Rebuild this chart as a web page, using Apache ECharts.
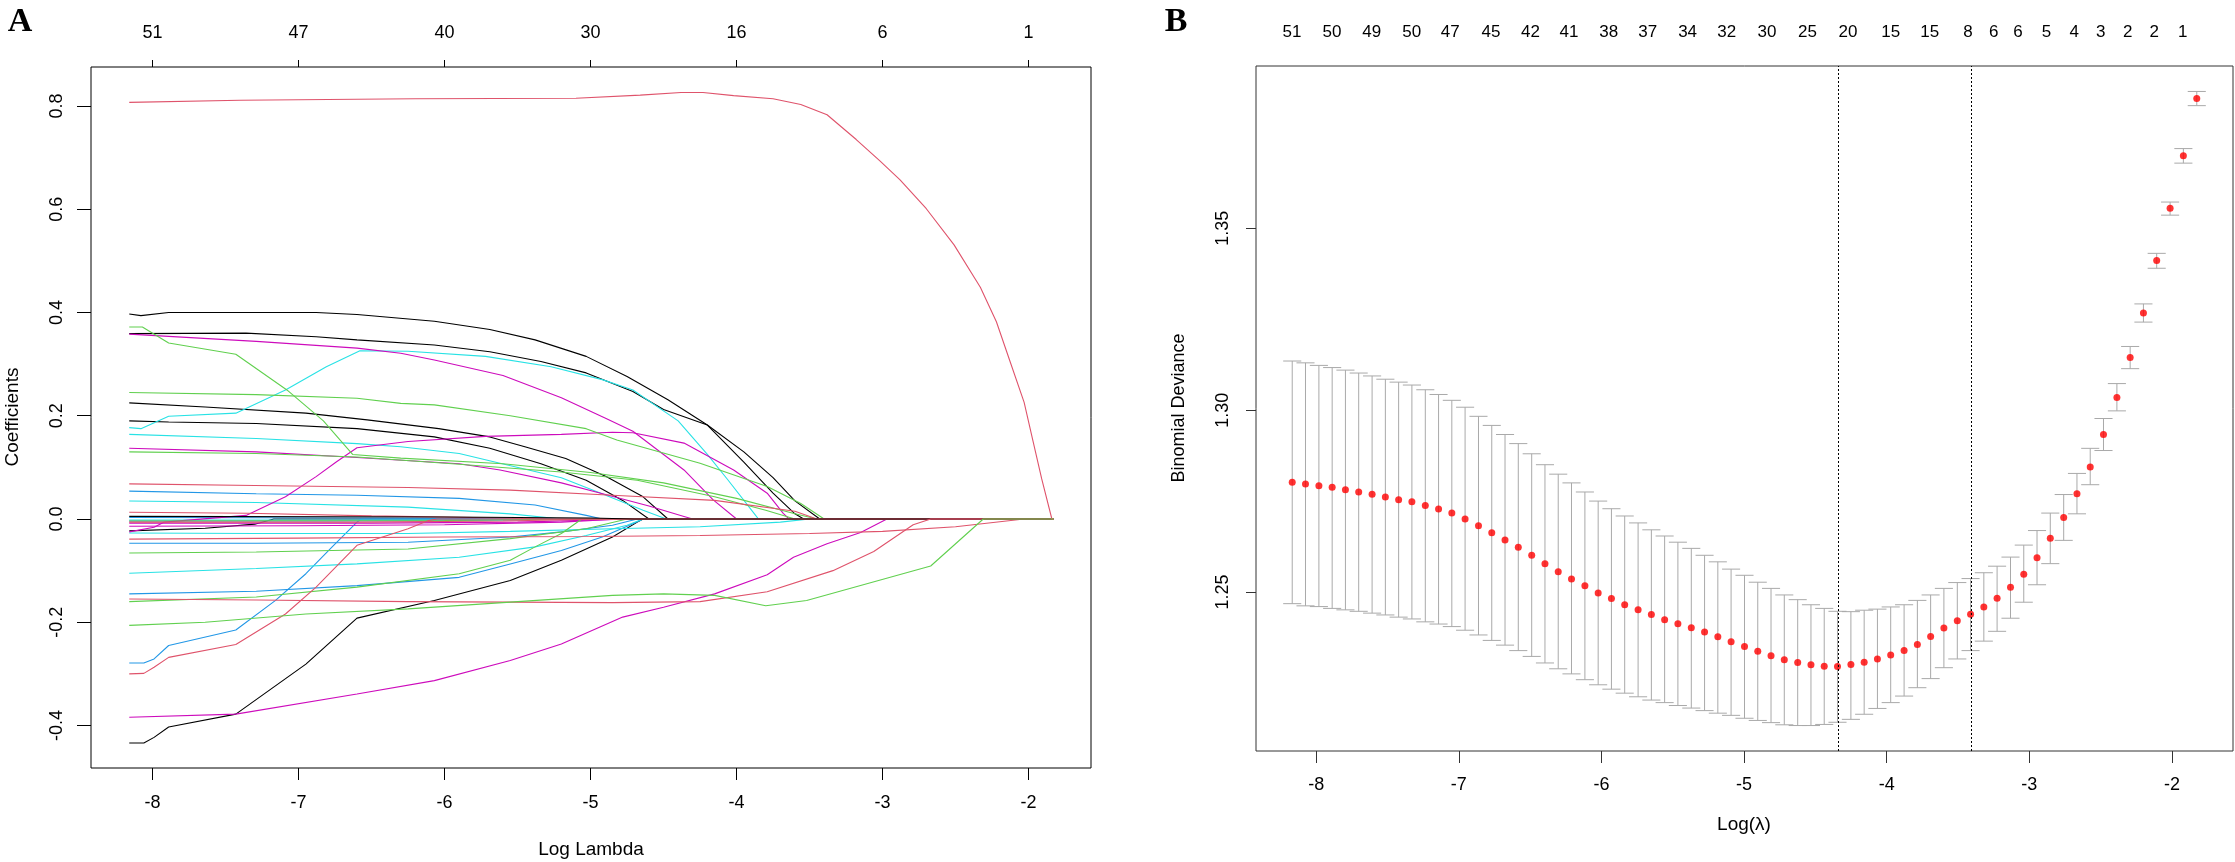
<!DOCTYPE html>
<html>
<head>
<meta charset="utf-8">
<script src="https://cdn.jsdelivr.net/npm/echarts@6.0.0/dist/echarts.min.js"></script>
<style>
  html, body { margin: 0; padding: 0; background: #fff; }
  #main { width: 2235px; height: 862px; }
</style>
</head>
<body>
<div id="main"></div>
<script>
// ---------- panel A : coefficient paths (log lambda, coefficient) ----------
const ticksX = [-8, -7, -6, -5, -4, -3, -2];
const topLabelsA = ['51', '47', '40', '30', '16', '6', '1'];
const ticksYA = [-0.4, -0.2, 0, 0.2, 0.4, 0.6, 0.8];

const blackTop = [[-8.16,0.397],[-8.08,0.394],[-7.89,0.4],[-6.88,0.4],[-6.6,0.396],[-6.07,0.383],[-5.69,0.367],[-5.38,0.347],[-5.03,0.315],[-4.75,0.276],[-4.47,0.231],[-4.2,0.182],[-3.95,0.11],[-3.75,0.05],[-3.6,0.01],[-3.54,0],[-1.826,0]];
const blackSecond = [[-8.16,0.359],[-7.36,0.36],[-6.88,0.353],[-6.6,0.347],[-6.07,0.337],[-5.69,0.324],[-5.34,0.305],[-5.03,0.283],[-4.71,0.247],[-4.5,0.212],[-4.2,0.182],[-3.95,0.13],[-3.75,0.08],[-3.6,0.035],[-3.43,0],[-1.826,0]];
const blackMid = [[-8.16,0.225],[-7.64,0.217],[-6.95,0.205],[-6.53,0.192],[-6.04,0.175],[-5.69,0.159],[-5.45,0.14],[-5.17,0.117],[-4.89,0.082],[-4.64,0.043],[-4.47,0],[-1.826,0]];
const blackLow = [[-8.16,0.19],[-7.89,0.188],[-7.29,0.185],[-6.6,0.175],[-6.07,0.159],[-5.69,0.137],[-5.34,0.107],[-5.03,0.075],[-4.78,0.036],[-4.6,0],[-1.826,0]];
const blackZero = [[-8.16,0.005],[-6.0,0.004],[-5.0,0.002],[-4.7,0],[-1.826,0]];
const blackNeg = [[-8.16,-0.023],[-7.64,-0.018],[-7.3,-0.01],[-7.17,0],[-1.826,0]];
const blackSteep = [[-8.16,-0.434],[-8.06,-0.434],[-7.99,-0.423],[-7.89,-0.403],[-7.43,-0.378],[-6.95,-0.281],[-6.6,-0.192],[-6.07,-0.158],[-5.55,-0.119],[-5.2,-0.08],[-4.85,-0.035],[-4.68,-0.006],[-4.64,0],[-1.826,0]];

const blueTop = [[-8.16,0.054],[-7.29,0.049],[-6.6,0.046],[-5.9,0.04],[-5.38,0.027],[-5.03,0.007],[-4.92,0],[-1.826,0]];
const blueZero = [[-8.16,0.003],[-6.5,0.002],[-5.2,0],[-1.826,0]];
const blueBand = [[-8.16,-0.004],[-6.8,-0.004],[-5.9,-0.003],[-5.05,0],[-1.826,0]];
const blueNeg = [[-8.16,-0.047],[-7.29,-0.047],[-6.25,-0.045],[-5.55,-0.035],[-5.2,-0.025],[-4.85,-0.012],[-4.68,0],[-1.826,0]];
const blueLow = [[-8.16,-0.145],[-7.29,-0.14],[-6.6,-0.129],[-5.9,-0.113],[-5.55,-0.087],[-5.2,-0.061],[-4.92,-0.035],[-4.71,-0.009],[-4.64,0],[-1.826,0]];
const blueSteep = [[-8.16,-0.279],[-8.06,-0.279],[-7.99,-0.271],[-7.89,-0.245],[-7.43,-0.215],[-7.16,-0.158],[-6.95,-0.106],[-6.77,-0.054],[-6.6,-0.006],[-6.57,0],[-1.826,0]];

const cyanRise = [[-8.16,0.177],[-8.08,0.175],[-7.89,0.199],[-7.43,0.205],[-7.09,0.25],[-6.81,0.295],[-6.58,0.326],[-6.25,0.325],[-5.72,0.315],[-5.27,0.295],[-4.92,0.27],[-4.71,0.25],[-4.4,0.19],[-4.2,0.125],[-4.06,0.076],[-3.88,0.011],[-3.85,0],[-1.826,0]];
const cyanMid = [[-8.16,0.164],[-7.29,0.156],[-6.6,0.146],[-6.3,0.14],[-5.9,0.127],[-5.62,0.108],[-5.2,0.08],[-4.93,0.05],[-4.64,0.017],[-4.48,0],[-1.826,0]];
const cyanSmall = [[-8.16,0.035],[-7.29,0.032],[-6.25,0.023],[-5.55,0.01],[-5.2,0],[-1.826,0]];
const cyanZero = [[-8.16,-0.002],[-6.0,-0.002],[-5.0,0],[-1.826,0]];
const cyanNeg = [[-8.16,-0.027],[-7.29,-0.028],[-6.25,-0.028],[-5.55,-0.024],[-4.85,-0.019],[-4.25,-0.015],[-3.7,-0.006],[-3.5,0],[-1.826,0]];
const cyanLow = [[-8.16,-0.105],[-7.29,-0.096],[-6.6,-0.087],[-5.9,-0.074],[-5.38,-0.054],[-5.03,-0.032],[-4.75,-0.012],[-4.64,0],[-1.826,0]];

const magentaTop = [[-8.16,0.358],[-7.29,0.344],[-6.6,0.331],[-6.3,0.321],[-6.07,0.308],[-5.6,0.278],[-5.2,0.235],[-4.89,0.194],[-4.71,0.17],[-4.36,0.095],[-4.16,0.037],[-4.0,0],[-1.826,0]];
const magentaRise = [[-8.16,-0.025],[-7.99,-0.016],[-7.92,-0.006],[-7.36,0.007],[-7.09,0.043],[-6.88,0.082],[-6.74,0.111],[-6.6,0.138],[-6.25,0.15],[-5.72,0.16],[-5.2,0.164],[-4.85,0.168],[-4.71,0.167],[-4.36,0.147],[-4.02,0.095],[-3.79,0.05],[-3.68,0.011],[-3.64,0],[-1.826,0]];
const magentaMid = [[-8.16,0.137],[-7.29,0.13],[-6.6,0.119],[-5.9,0.107],[-5.62,0.095],[-5.2,0.07],[-4.93,0.05],[-4.6,0.025],[-4.36,0.005],[-4.3,0],[-1.826,0]];
const magentaZero = [[-8.16,-0.008],[-6.5,-0.008],[-5.5,-0.006],[-4.72,0],[-1.826,0]];
const magentaBand = [[-8.16,-0.014],[-7.0,-0.013],[-6.0,-0.011],[-5.2,-0.006],[-4.8,0],[-1.826,0]];
const magentaLow = [[-8.16,-0.384],[-7.43,-0.378],[-6.6,-0.339],[-6.07,-0.313],[-5.55,-0.274],[-5.2,-0.242],[-4.78,-0.19],[-4.5,-0.171],[-4.15,-0.145],[-3.79,-0.108],[-3.61,-0.074],[-3.38,-0.048],[-3.15,-0.026],[-2.97,0],[-1.826,0]];

const greenDrop = [[-8.16,0.372],[-8.07,0.372],[-7.89,0.341],[-7.43,0.319],[-7.08,0.25],[-6.83,0.19],[-6.63,0.125],[-6.3,0.118],[-5.6,0.107],[-5.0,0.09],[-4.5,0.07],[-4.0,0.04],[-3.6,0.01],[-3.45,0],[-1.826,0]];
const greenTop = [[-8.16,0.245],[-7.29,0.241],[-6.6,0.234],[-6.3,0.224],[-6.07,0.221],[-5.55,0.2],[-5.03,0.175],[-4.82,0.153],[-4.25,0.108],[-3.79,0.063],[-3.56,0.03],[-3.4,0],[-1.826,0]];
const greenMid = [[-8.16,0.13],[-7.29,0.127],[-6.6,0.12],[-5.9,0.106],[-5.2,0.091],[-4.68,0.075],[-4.15,0.043],[-3.8,0.017],[-3.6,0],[-1.826,0]];
const greenZero = [[-8.16,-0.004],[-6.0,-0.003],[-5.0,0],[-1.826,0]];
const greenNeg = [[-8.16,-0.066],[-7.29,-0.064],[-6.25,-0.058],[-5.55,-0.038],[-5.03,-0.019],[-4.75,0],[-1.826,0]];
const greenSteep = [[-8.16,-0.16],[-7.29,-0.151],[-6.6,-0.132],[-5.9,-0.106],[-5.55,-0.08],[-5.38,-0.054],[-5.2,-0.028],[-5.06,0],[-1.826,0]];
const greenLow = [[-8.16,-0.206],[-7.64,-0.2],[-6.95,-0.184],[-6.25,-0.174],[-5.55,-0.161],[-4.85,-0.148],[-4.5,-0.145],[-4.15,-0.148],[-3.8,-0.168],[-3.52,-0.158],[-2.67,-0.091],[-2.31,0],[-1.826,0]];

const redTop = [[-8.16,0.807],[-7.4,0.811],[-6.2,0.814],[-5.1,0.815],[-4.66,0.821],[-4.38,0.826],[-4.23,0.826],[-4.02,0.82],[-3.75,0.814],[-3.56,0.803],[-3.38,0.783],[-3.18,0.735],[-3.02,0.694],[-2.88,0.657],[-2.7,0.601],[-2.51,0.531],[-2.33,0.449],[-2.22,0.382],[-2.13,0.308],[-2.03,0.226],[-1.97,0.152],[-1.91,0.078],[-1.84,0],[-1.826,0]];
const redMid = [[-8.16,0.068],[-7.3,0.065],[-6.25,0.061],[-5.55,0.056],[-4.85,0.046],[-4.15,0.036],[-3.6,0.015],[-3.45,0],[-1.826,0]];
const redZero = [[-8.16,0.013],[-7.35,0.011],[-6.5,0.006],[-5.6,0.002],[-5.3,0],[-1.826,0]];
const redBand = [[-8.16,-0.006],[-6.6,-0.006],[-5.6,-0.004],[-4.9,0],[-1.826,0]];
const redNeg = [[-8.16,-0.039],[-7.0,-0.037],[-6.0,-0.035],[-5.0,-0.034],[-4.25,-0.032],[-3.5,-0.028],[-3.0,-0.024],[-2.5,-0.015],[-2.03,0],[-1.826,0]];
const redLow = [[-8.16,-0.155],[-7.29,-0.157],[-6.25,-0.16],[-5.55,-0.161],[-4.85,-0.162],[-4.25,-0.16],[-3.79,-0.141],[-3.34,-0.1],[-3.06,-0.063],[-2.79,-0.011],[-2.67,0],[-1.826,0]];
const redSteep = [[-8.16,-0.3],[-8.06,-0.299],[-7.99,-0.287],[-7.89,-0.268],[-7.43,-0.243],[-7.09,-0.184],[-6.88,-0.132],[-6.6,-0.051],[-6.25,-0.019],[-6.11,-0.003],[-6.05,0],[-1.826,0]];

// ---------- panel B : cross-validation curve ----------
const lambdaB = [-8.168,-8.075,-7.981,-7.888,-7.795,-7.702,-7.608,-7.515,-7.422,-7.329,
  -7.235,-7.142,-7.049,-6.956,-6.862,-6.769,-6.676,-6.583,-6.489,-6.396,
  -6.303,-6.21,-6.116,-6.023,-5.93,-5.837,-5.743,-5.65,-5.557,-5.464,
  -5.37,-5.277,-5.184,-5.091,-4.997,-4.904,-4.811,-4.718,-4.624,-4.531,
  -4.438,-4.345,-4.251,-4.158,-4.065,-3.972,-3.878,-3.785,-3.692,-3.599,
  -3.505,-3.412,-3.319,-3.226,-3.132,-3.039,-2.946,-2.853,-2.759,-2.666,
  -2.573,-2.48,-2.386,-2.293,-2.2,-2.107,-2.013,-1.92,-1.826];
const cvMean = [1.2802,1.2797,1.2792,1.2788,1.2781,1.2775,1.2769,1.2761,1.2754,1.2748,
  1.2738,1.2728,1.2717,1.2701,1.2682,1.2663,1.2643,1.2623,1.2601,1.2578,
  1.2556,1.2536,1.2517,1.2497,1.2482,1.2465,1.2451,1.2438,1.2424,1.2413,
  1.2402,1.2390,1.2377,1.2363,1.2350,1.2337,1.2325,1.2314,1.2306,1.2300,
  1.2296,1.2295,1.2301,1.2307,1.2316,1.2327,1.2339,1.2356,1.2378,1.2401,
  1.2421,1.2439,1.2459,1.2483,1.2513,1.2549,1.2594,1.2648,1.2705,1.2770,
  1.2844,1.2933,1.3035,1.3145,1.3267,1.3411,1.3555,1.3699,1.3857];
const cvUpper = [1.3135,1.3130,1.3123,1.3117,1.3110,1.3102,1.3094,1.3085,1.3077,1.3069,
  1.3056,1.3043,1.3027,1.3008,1.2983,1.2958,1.2933,1.2908,1.2880,1.2850,
  1.2824,1.2800,1.2775,1.2750,1.2729,1.2709,1.2690,1.2671,1.2654,1.2637,
  1.2620,1.2601,1.2583,1.2563,1.2546,1.2527,1.2510,1.2492,1.2479,1.2465,
  1.2455,1.2447,1.2446,1.2450,1.2453,1.2459,1.2465,1.2477,1.2492,1.2510,
  1.2526,1.2537,1.2553,1.2571,1.2596,1.2629,1.2669,1.2717,1.2768,1.2826,
  1.2895,1.2977,1.3073,1.3175,1.3292,1.3431,1.3572,1.3719,1.3876];
const cvLower = [1.2468,1.2462,1.2460,1.2455,1.2451,1.2447,1.2442,1.2437,1.2431,1.2426,
  1.2418,1.2412,1.2405,1.2395,1.2382,1.2367,1.2354,1.2339,1.2323,1.2305,
  1.2289,1.2275,1.2259,1.2245,1.2233,1.2222,1.2212,1.2203,1.2196,1.2188,
  1.2181,1.2174,1.2167,1.2161,1.2153,1.2147,1.2141,1.2135,1.2133,1.2133,
  1.2136,1.2142,1.2150,1.2164,1.2180,1.2196,1.2214,1.2237,1.2262,1.2292,
  1.2316,1.2339,1.2365,1.2392,1.2428,1.2472,1.2520,1.2578,1.2642,1.2715,
  1.2795,1.2889,1.2998,1.3114,1.3242,1.3390,1.3536,1.3679,1.3837];
const topLabelsB = ['51','50','49','50','47','45','42','41','38','37','34','32','30','25','20','15','15','8','6','6','5','4','3','2','2','1'];
const topPosB = [-8.17,-7.89,-7.61,-7.33,-7.06,-6.775,-6.497,-6.228,-5.949,-5.675,-5.396,-5.122,-4.839,-4.555,-4.271,-3.972,-3.698,-3.43,-3.25,-3.08,-2.88,-2.685,-2.5,-2.31,-2.125,-1.925];
const ticksYB = [1.25, 1.3, 1.35];
const lambdaMin = -4.345;
const lambda1se = -3.412;

// R matplot palette
const C_BLACK = '#000000', C_RED = '#DF536B', C_GREEN = '#61D04F',
      C_BLUE = '#2297E6', C_CYAN = '#28E2E5', C_MAG = '#CD0BBC';

const pathsA = [
  [blackTop, C_BLACK], [blackSecond, C_BLACK], [blackMid, C_BLACK], [blackLow, C_BLACK],
  [blackNeg, C_BLACK], [blackSteep, C_BLACK],
  [blueTop, C_BLUE], [blueZero, C_BLUE], [blueBand, C_BLUE], [blueNeg, C_BLUE], [blueLow, C_BLUE], [blueSteep, C_BLUE],
  [cyanRise, C_CYAN], [cyanMid, C_CYAN], [cyanSmall, C_CYAN], [cyanZero, C_CYAN], [cyanNeg, C_CYAN], [cyanLow, C_CYAN],
  [magentaTop, C_MAG], [magentaRise, C_MAG], [magentaMid, C_MAG], [magentaZero, C_MAG], [magentaBand, C_MAG], [magentaLow, C_MAG],
  [greenDrop, C_GREEN], [greenTop, C_GREEN], [greenMid, C_GREEN], [greenZero, C_GREEN], [greenNeg, C_GREEN], [greenSteep, C_GREEN],
  [redMid, C_RED], [redZero, C_RED], [redBand, C_RED], [redNeg, C_RED], [redSteep, C_RED], [blackZero, C_BLACK],
  [redTop, C_RED], [redLow, C_RED],
  [greenLow, C_GREEN]
];

const FONT = "'Liberation Sans', Arial, Helvetica, sans-serif";
const capHalf = 0.0634; // half width of the error bar caps, in log lambda units

function labelAt(list, names) {
  return function (v) {
    for (let i = 0; i < list.length; i++) {
      if (Math.abs(list[i] - v) < 1e-6) return names[i];
    }
    return '';
  };
}

function xAxisCfg(grid, pos, tickLen, margin, tickVals, labelVals, fmt, size, tickColor) {
  return {
    type: 'value', gridIndex: grid, position: pos,
    min: -8.422, max: -1.572,
    axisLine: { show: false, onZero: false },
    splitLine: { show: false },
    axisTick: {
      show: tickLen > 0, inside: false, length: tickLen,
      customValues: tickVals, lineStyle: { color: tickColor, width: 1 }
    },
    axisLabel: {
      customValues: labelVals, margin: margin, formatter: fmt,
      color: '#000', fontFamily: FONT, fontSize: size
    }
  };
}

const lineSeries = pathsA.map(function (p) {
  return {
    type: 'line', xAxisIndex: 0, yAxisIndex: 0,
    data: p[0], showSymbol: false, symbol: 'none', smooth: false,
    lineStyle: { color: p[1], width: 1.1 },
    silent: true
  };
});

const errData = lambdaB.map(function (x, i) { return [x, cvLower[i], cvUpper[i]]; });
const ptData = lambdaB.map(function (x, i) { return [x, cvMean[i]]; });

const chart = echarts.init(document.getElementById('main'), null, { renderer: 'canvas' });

chart.setOption({
  animation: false,
  backgroundColor: '#fff',
  grid: [
    { left: 91, top: 67, width: 1000, height: 701, show: true, borderColor: '#000', borderWidth: 1, backgroundColor: 'transparent' },
    { left: 1256, top: 66, width: 977, height: 685, show: true, borderColor: '#333', borderWidth: 1, backgroundColor: 'transparent' }
  ],
  xAxis: [
    xAxisCfg(0, 'bottom', 12, 26, ticksX, ticksX, function (v) { return String(v); }, 18, '#000'),
    xAxisCfg(0, 'top', 7, 25, ticksX, ticksX, labelAt(ticksX, topLabelsA), 18, '#000'),
    xAxisCfg(1, 'bottom', 12, 25, ticksX, ticksX, function (v) { return String(v); }, 18, '#333'),
    xAxisCfg(1, 'top', 0, 25, ticksX, topPosB, labelAt(topPosB, topLabelsB), 17, '#333')
  ],
  yAxis: [
    {
      type: 'value', gridIndex: 0, min: -0.4823, max: 0.8755,
      axisLine: { show: false, onZero: false }, splitLine: { show: false },
      axisTick: { show: true, length: 14, customValues: ticksYA, lineStyle: { color: '#000' } },
      axisLabel: {
        customValues: ticksYA, rotate: 90, margin: 25,
        formatter: function (v) { return v.toFixed(1); },
        color: '#000', fontFamily: FONT, fontSize: 18
      }
    },
    {
      type: 'value', gridIndex: 1, min: 1.2063, max: 1.3946,
      axisLine: { show: false, onZero: false }, splitLine: { show: false },
      axisTick: { show: true, length: 10, customValues: ticksYB, lineStyle: { color: '#333' } },
      axisLabel: {
        customValues: ticksYB, rotate: 90, margin: 24,
        formatter: function (v) { return v.toFixed(2); },
        color: '#000', fontFamily: FONT, fontSize: 18
      }
    }
  ],
  graphic: [
    { type: 'text', x: 20, y: 22, style: { text: 'A', font: "bold 34px 'Liberation Serif', 'Times New Roman', serif", fill: '#000', textAlign: 'center', textVerticalAlign: 'middle' } },
    { type: 'text', x: 1176, y: 22, style: { text: 'B', font: "bold 34px 'Liberation Serif', 'Times New Roman', serif", fill: '#000', textAlign: 'center', textVerticalAlign: 'middle' } },
    { type: 'text', x: 13, y: 417, rotation: Math.PI / 2, style: { text: 'Coefficients', font: "19px " + FONT, fill: '#000', textAlign: 'center', textVerticalAlign: 'middle' } },
    { type: 'text', x: 591, y: 850, style: { text: 'Log Lambda', font: "19px " + FONT, fill: '#000', textAlign: 'center', textVerticalAlign: 'middle' } },
    { type: 'text', x: 1179, y: 408, rotation: Math.PI / 2, style: { text: 'Binomial Deviance', font: "18px " + FONT, fill: '#000', textAlign: 'center', textVerticalAlign: 'middle' } },
    { type: 'text', x: 1744, y: 825, style: { text: 'Log(λ)', font: "19px " + FONT, fill: '#000', textAlign: 'center', textVerticalAlign: 'middle' } }
  ],
  series: lineSeries.concat([
    {
      type: 'custom', xAxisIndex: 2, yAxisIndex: 1,
      data: errData, encode: { x: 0, y: [1, 2] }, z: 2, silent: true,
      renderItem: function (params, api) {
        const x = api.value(0);
        const lo = api.coord([x, api.value(1)]);
        const hi = api.coord([x, api.value(2)]);
        const l = api.coord([x - capHalf, api.value(2)])[0];
        const r = api.coord([x + capHalf, api.value(2)])[0];
        const st = { stroke: '#A9A9A9', lineWidth: 1 };
        return {
          type: 'group',
          children: [
            { type: 'line', shape: { x1: hi[0], y1: hi[1], x2: lo[0], y2: lo[1] }, style: st },
            { type: 'line', shape: { x1: l, y1: hi[1], x2: r, y2: hi[1] }, style: st },
            { type: 'line', shape: { x1: l, y1: lo[1], x2: r, y2: lo[1] }, style: st }
          ]
        };
      }
    },
    {
      type: 'scatter', xAxisIndex: 2, yAxisIndex: 1,
      data: ptData, symbol: 'circle', symbolSize: 7, z: 3, silent: true,
      itemStyle: { color: '#FF0000' },
      markLine: {
        silent: true, symbol: ['none', 'none'], label: { show: false },
        lineStyle: { color: '#000', width: 1, type: [2, 2] },
        data: [{ xAxis: lambdaMin }, { xAxis: lambda1se }]
      }
    }
  ])
});
</script>
</body>
</html>
